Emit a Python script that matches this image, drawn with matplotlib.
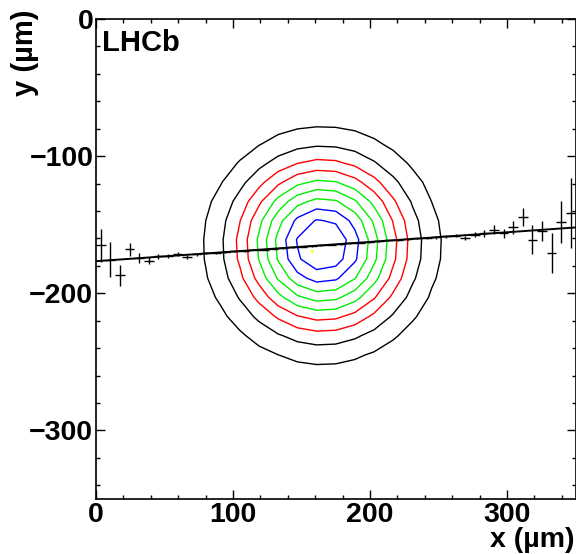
import numpy as np
import matplotlib
matplotlib.use("Agg")
import matplotlib.pyplot as plt
from matplotlib.ticker import MultipleLocator

plt.rcParams['font.family'] = ['Liberation Sans', 'DejaVu Sans']
plt.rcParams['font.weight'] = 'bold'

# profile points (bin centres in x, mean y, error on mean)
bin_x = [3.5, 10.5, 17.5, 24.5, 31.5, 38.5, 45.5, 52.5, 59.5, 66.5,
         73.5, 80.5, 87.5, 94.5, 101.5, 108.5, 115.5, 122.5, 129.5, 136.5,
         143.5, 150.5, 157.5, 164.5, 171.5, 178.5, 185.5, 192.5, 199.5, 206.5,
         213.5, 220.5, 227.5, 234.5, 241.5, 248.5, 255.5, 262.5, 269.5, 276.5,
         283.5, 290.5, 297.5, 304.5, 311.5, 318.5, 325.5, 332.5, 339.5, 346.5]
mean_y = [-165.0, -175.4, -186.9, -168.0, -174.2, -176.1, -173.0, -172.7, -171.5, -173.5,
          -171.6, -170.8, -170.3, -170.0, -169.3, -169.1, -168.4, -168.1, -167.4, -167.1,
          -166.6, -166.0, -165.6, -165.0, -164.6, -164.1, -163.5, -163.1, -162.6, -162.1,
          -161.5, -161.2, -160.7, -160.0, -159.7, -159.3, -158.5, -158.0, -159.6, -157.2,
          -156.4, -153.5, -156.4, -152.0, -144.3, -160.8, -154.5, -170.6, -148.0, -141.4]
err_y = [12.0, 12.5, 7.5, 4.5, 3.8, 2.5, 2.0, 1.5, 1.5, 1.2,
         1.0, 0.8, 0.7, 0.6, 0.5, 0.5, 0.4, 0.4, 0.4, 0.4,
         0.4, 0.4, 0.4, 0.4, 0.4, 0.4, 0.4, 0.4, 0.4, 0.4,
         0.4, 0.5, 0.5, 0.6, 0.7, 0.8, 1.0, 1.2, 1.5, 1.8,
         2.2, 3.0, 3.5, 4.6, 6.4, 10.6, 7.5, 14.6, 15.3, 25.5]
bin_half_width = 3.5

# straight line fit: y = p0 + p1 * x
fit_p0 = -176.6
fit_p1 = 0.0703

# luminous region seen in the contours
spot_x, spot_y = 165.0, -165.0
spot_sx, spot_sy = 40.0, 40.0
contour_fracs = [0.1, 0.2, 0.3, 0.4, 0.5, 0.6, 0.7, 0.8, 0.9]
contour_colors = ['black', 'black', 'red', 'red', '#00ee00', '#00ee00', '#00ee00', 'blue', 'blue']
peak_x, peak_y = 157.5, -169.0

fig = plt.figure(figsize=(5.76, 5.54), dpi=100)
ax = fig.add_axes([96 / 576, 55 / 554, 479.5 / 576, 480 / 554])

# 2D histogram of the spot, 14 um bins
gx = np.arange(7.0, 350, 14.0)
gy = np.arange(-343.0, 0, 14.0)
X, Y = np.meshgrid(gx, gy)
Z = np.exp(-0.5 * (((X - spot_x) / spot_sx) ** 2 + ((Y - spot_y) / spot_sy) ** 2))
levels = [f * Z.max() for f in contour_fracs]
ax.contour(X, Y, Z, levels=levels, colors=contour_colors, linewidths=1.0)

ax.errorbar(bin_x, mean_y, yerr=err_y, xerr=bin_half_width, fmt='none',
            ecolor='black', elinewidth=1.0, capsize=0)

xl = np.array([0, 350])
ax.plot(xl, fit_p0 + fit_p1 * xl, color='black', lw=1.4)
ax.plot([peak_x], [peak_y], marker='.', ms=2, color='yellow')

ax.set_xlim(0, 350)
ax.set_ylim(-350, 0)
ax.xaxis.set_major_locator(MultipleLocator(100))
ax.xaxis.set_minor_locator(MultipleLocator(20))
ax.yaxis.set_major_locator(MultipleLocator(100))
ax.yaxis.set_minor_locator(MultipleLocator(20))
ax.tick_params(which='both', direction='in', top=True, right=True, width=1)
ax.tick_params(which='major', length=6.5)
ax.tick_params(which='minor', length=3)
ax.tick_params(axis='x', which='major', pad=2, labelsize=20.5)
ax.tick_params(axis='y', which='major', pad=2, labelsize=20.5)
for s in ax.spines.values():
    s.set_linewidth(1.2)

fig.text(575 / 576, 1 / 554, 'x (\u00b5m)', ha='right', va='bottom', fontsize=20.5, fontweight='bold')
fig.text(25 / 576, 1 - 10 / 554, 'y (\u00b5m)', rotation=90, ha='center', va='top', fontsize=21, fontweight='bold')
fig.text(102 / 576, 1 - 51 / 554, 'LHCb', ha='left', va='baseline', fontsize=21, fontweight='bold')

fig.savefig('out.png', dpi=100)
